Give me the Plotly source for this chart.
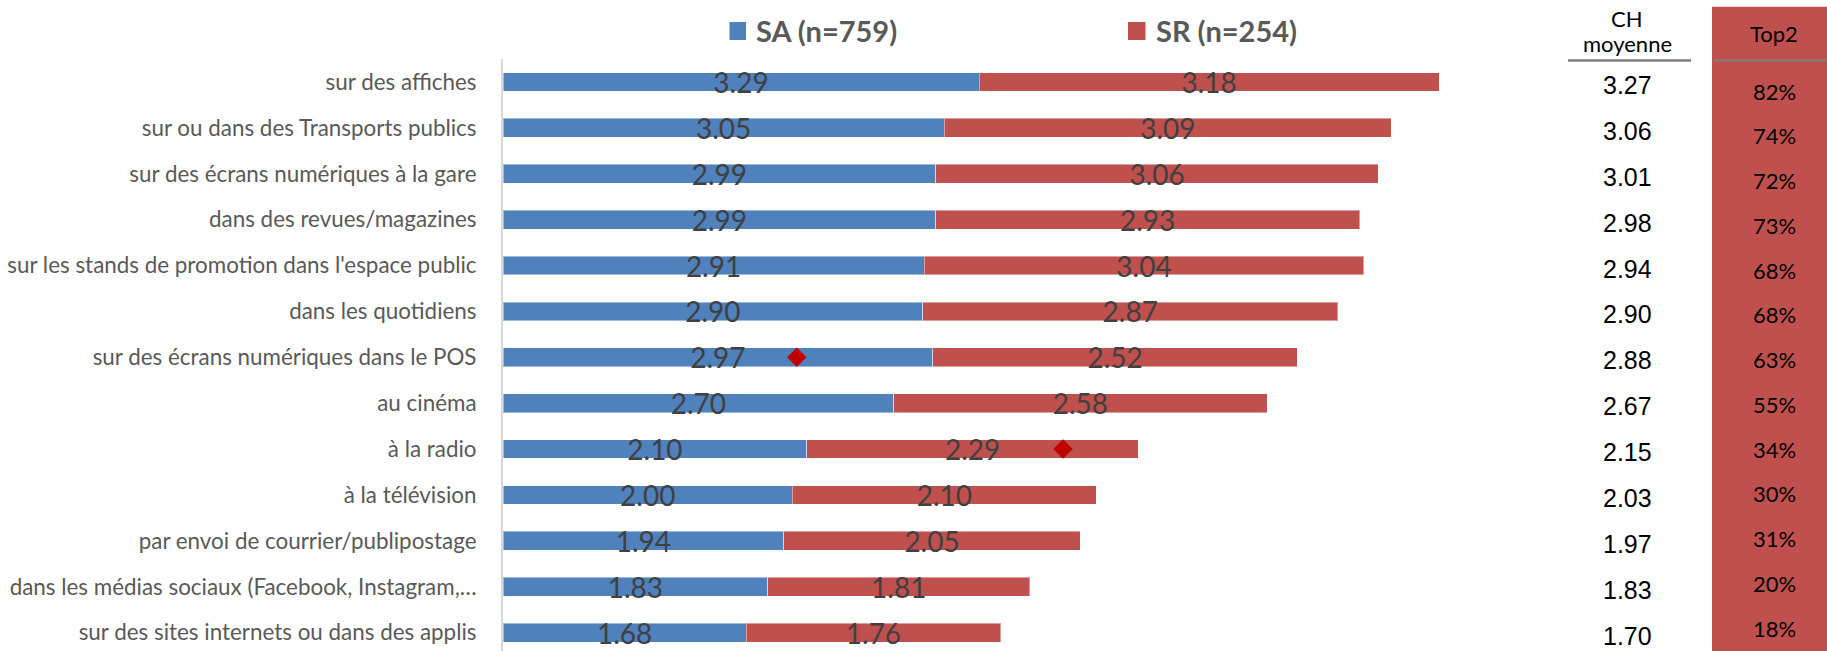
import plotly.graph_objects as go

categories = [
    "sur des affiches",
    "sur ou dans des Transports publics",
    "sur des écrans numériques à la gare",
    "dans des revues/magazines",
    "sur les stands de promotion dans l'espace public",
    "dans les quotidiens",
    "sur des écrans numériques dans le POS",
    "au cinéma",
    "à la radio",
    "à la télévision",
    "par envoi de courrier/publipostage",
    "dans les médias sociaux (Facebook, Instagram,…",
    "sur des sites internets ou dans des applis",
]
sa_values = [3.29, 3.05, 2.99, 2.99, 2.91, 2.90, 2.97, 2.70, 2.10, 2.00, 1.94, 1.83, 1.68]
sr_values = [3.18, 3.09, 3.06, 2.93, 3.04, 2.87, 2.52, 2.58, 2.29, 2.10, 2.05, 1.81, 1.76]
ch_moyenne = [3.27, 3.06, 3.01, 2.98, 2.94, 2.90, 2.88, 2.67, 2.15, 2.03, 1.97, 1.83, 1.70]
top2_pct = [82, 74, 72, 73, 68, 68, 63, 55, 34, 30, 31, 20, 18]
marker_cats = ["sur des écrans numériques dans le POS", "à la radio"]
marker_x = [2.03, 3.87]
series_names = ["SA (n=759)", "SR (n=254)"]
header_ch = ["CH", "moyenne"]
header_top2 = "Top2"

BLUE = "#4F81BD"
RED = "#C0504D"

W, H = 1827, 651
ML, MT = 503, 59
PX_PER_UNIT = 144.7
plot_w = W - ML
plot_h = H - MT


def px_x(px):
    return (px - ML) / plot_w


def px_y(py):
    return (H - py) / plot_h


fig = go.Figure()
for vals, name, col in [(sa_values, series_names[0], BLUE), (sr_values, series_names[1], RED)]:
    fig.add_trace(go.Bar(
        y=categories, x=vals, orientation="h", name=name,
        marker=dict(color=col, line=dict(color="rgba(255,255,255,0.45)", width=1)),
        width=0.41,
        text=[f"{v:.2f}" for v in vals],
        textposition="inside", insidetextanchor="middle", textangle=0,
        constraintext="none",
        textfont=dict(family="Lato", size=28, color="#404040"),
        showlegend=False, hoverinfo="skip",
    ))

fig.add_trace(go.Scatter(
    x=marker_x, y=marker_cats, mode="markers",
    marker=dict(symbol="diamond", size=15, color="#C00000"),
    showlegend=False, hoverinfo="skip",
))

shapes = []
annotations = []

# legend
for (x0, x1, tx), name, col in zip([(729.5, 746, 754), (1128, 1145.5, 1153.5)], series_names, [BLUE, RED]):
    shapes.append(dict(type="rect", xref="paper", yref="paper",
                       x0=px_x(x0), x1=px_x(x1), y0=px_y(40), y1=px_y(22),
                       fillcolor=col, line=dict(width=0)))
    annotations.append(dict(xref="paper", yref="paper", x=px_x(tx), y=px_y(31),
                            xanchor="left", yanchor="middle", showarrow=False,
                            text=f"<b>{name}</b>",
                            font=dict(family="Lato", size=29, color="#595959")))

# Top2 column background
shapes.append(dict(type="rect", xref="paper", yref="paper",
                   x0=px_x(1712), x1=px_x(1840), y0=-0.05, y1=px_y(6.7),
                   fillcolor=RED, line=dict(width=0), layer="below"))
shapes.append(dict(type="line", xref="paper", yref="paper",
                   x0=px_x(1714), x1=px_x(1840), y0=px_y(60.5), y1=px_y(60.5),
                   line=dict(color="#7F7F7F", width=2)))
# CH underline
shapes.append(dict(type="line", xref="paper", yref="paper",
                   x0=px_x(1568), x1=px_x(1691), y0=px_y(60.5), y1=px_y(60.5),
                   line=dict(color="#7F7F7F", width=2.5)))

annotations.append(dict(xref="paper", yref="paper", x=px_x(1627), y=px_y(18.5),
                        text=header_ch[0], showarrow=False, xanchor="center", yanchor="middle",
                        font=dict(family="Lato", size=22, color="#000000")))
annotations.append(dict(xref="paper", yref="paper", x=px_x(1627), y=px_y(43),
                        text=header_ch[1], showarrow=False, xanchor="center", yanchor="middle",
                        font=dict(family="Lato", size=22, color="#000000")))
annotations.append(dict(xref="paper", yref="paper", x=px_x(1774), y=px_y(33),
                        text=header_top2, showarrow=False, xanchor="center", yanchor="middle",
                        font=dict(family="Lato", size=22, color="#000000")))

for i, (cat, ch, t2) in enumerate(zip(categories, ch_moyenne, top2_pct)):
    annotations.append(dict(xref="paper", yref="y", x=px_x(1627), y=cat, yshift=-3,
                            text=f"{ch:.2f}", showarrow=False, xanchor="center", yanchor="middle",
                            font=dict(family="Liberation Sans, Arial", size=25, color="#000000")))
    annotations.append(dict(xref="paper", yref="paper", x=px_x(1774), y=px_y(91 + 44.77 * i),
                            text=f"{t2}%", showarrow=False, xanchor="center", yanchor="middle",
                            font=dict(family="Lato", size=22, color="#000000")))

fig.update_layout(
    width=W, height=H,
    margin=dict(l=ML, r=0, t=MT, b=0),
    paper_bgcolor="white", plot_bgcolor="white",
    barmode="stack",
    shapes=shapes, annotations=annotations,
    xaxis=dict(range=[0, plot_w / PX_PER_UNIT], visible=False, showgrid=False, zeroline=False),
    yaxis=dict(type="category", categoryorder="array", categoryarray=categories,
               range=[12.4, -0.5], showline=True, linecolor="#D9D9D9", linewidth=2,
               showgrid=False, zeroline=False, ticks="", ticklabelstandoff=20,
               tickfont=dict(family="Lato", size=22.4, color="#595959")),
)

fig.write_html("out.html", config={"displayModeBar": False},
               post_script="document.body.style.margin='0';document.body.style.overflow='hidden';")
